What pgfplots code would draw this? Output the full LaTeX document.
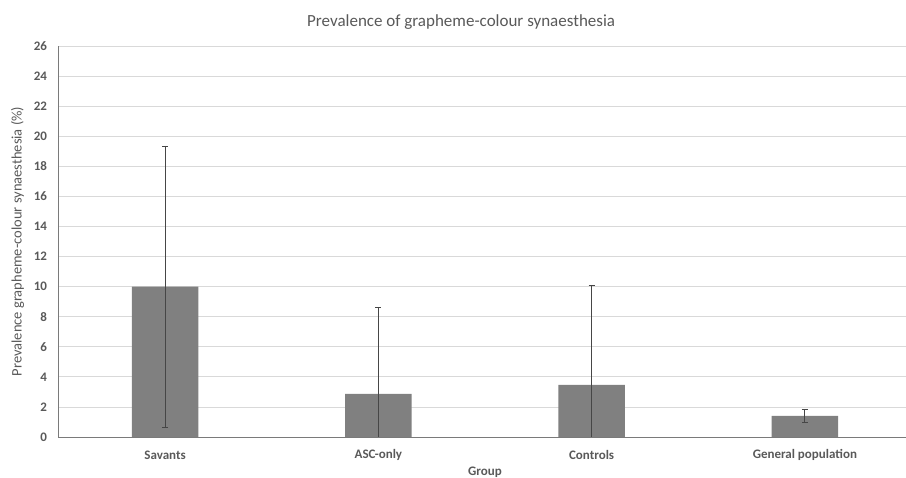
\documentclass[border=0pt]{standalone}
\usepackage{pgfplots}
\pgfplotsset{compat=1.18}
\usepackage{fontspec}
\setmainfont{Carlito}
\definecolor{txt}{RGB}{89,89,89}
\definecolor{gridc}{RGB}{217,217,217}
\definecolor{barc}{RGB}{128,128,128}
\definecolor{errc}{RGB}{70,70,70}
\begin{document}
\begin{tikzpicture}[x=1pt,y=1pt]
\begin{axis}[
  at={(0,0)}, anchor=south west,
  scale only axis, width=853pt, height=391pt,
  xmin=-0.5, xmax=3.5, ymin=0, ymax=26,
  ytick={0,2,...,26},
  xtick={0,1,2,3},
  xticklabels={Savants,ASC-only,Controls,General population},
  major tick length=0pt,
  axis lines=left,
  axis line style={-, draw=txt!80, line width=0.8pt},
  ymajorgrids,
  grid style={gridc, line width=0.8pt},
  /pgf/number format/assume math mode=true,
  tick label style={font=\bfseries\fontsize{13}{15}\selectfont, text=txt},
  yticklabel style={anchor=east, xshift=-8pt},
  xticklabel style={anchor=center, yshift=-18pt},
  every axis title shift=0pt,
  title={Prevalence of grapheme-colour synaesthesia},
  title style={at={(axis description cs:0.472,1.062)}, anchor=center, font=\fontsize{17}{20}\selectfont, text=txt},
  ylabel={Prevalence grapheme-colour synaesthesia (\%)},
  ylabel style={at={(axis description cs:-0.048,0.5)}, anchor=center, font=\fontsize{14.5}{17}\selectfont, text=txt},
  xlabel={Group},
  xlabel style={at={(axis description cs:0.5,-0.089)}, anchor=center, font=\bfseries\fontsize{13}{15}\selectfont, text=txt},
]
\addplot[ybar, bar width=66.5pt, fill=barc, draw=none,
  error bars/.cd, y dir=both, y explicit,
  error bar style={errc, line width=0.8pt},
  error mark options={errc, rotate=90, mark size=3pt, line width=0.8pt}]
coordinates {
  (0,10.00) +=(0,9.35) -=(0,9.33)
  (1,2.86) +=(0,5.78) -=(0,2.86)
  (2,3.46) +=(0,6.65) -=(0,3.46)
  (3,1.40) +=(0,0.45) -=(0,0.42)
};
\end{axis}
\pgfresetboundingbox
\useasboundingbox (-58.5,-41) rectangle (847.5,437);
\end{tikzpicture}
\end{document}
